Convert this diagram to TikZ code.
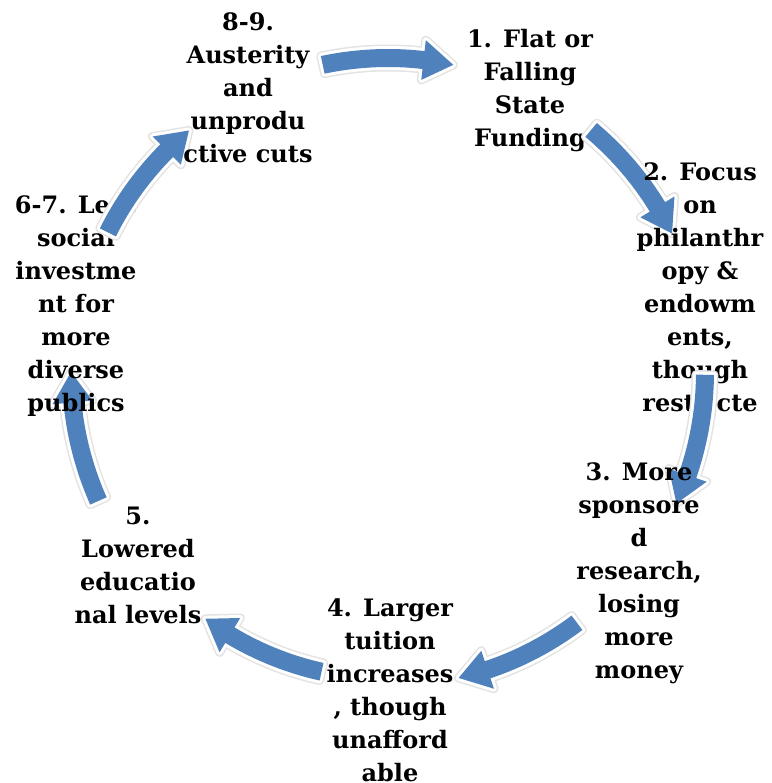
\documentclass[tikz,border=0pt]{standalone}
\usepackage{fontspec}
\setmainfont{DejaVu Serif}
\definecolor{arrowblue}{RGB}{79,129,189}
\tikzset{
  lbl/.style={anchor=north, align=center, inner sep=0pt, text=black,
    font=\fontsize{24}{33}\selectfont\bfseries},
}
% #1 = compass angle of the arrow's middle, #2 = radius
\newcommand\cycarrow[2]{%
  \pgfmathsetmacro\cps{#1-102}%
  \pgfmathsetmacro\cph{#1-83.5}%
  \pgfmathsetmacro\cpe{#1-78}%
  \pgfmathsetmacro\rso{#2+9}\pgfmathsetmacro\rsi{#2-9}%
  \pgfmathsetmacro\rho{#2+20}\pgfmathsetmacro\rhi{#2-20}%
  \def\cycpath{plot[domain=\cps:\cph,samples=18] (\x:\rso) -- (\cph:\rho) -- (\cpe:#2) -- (\cph:\rhi) -- plot[domain=\cph:\cps,samples=18] (\x:\rsi) -- cycle}%
  \begin{scope}[shift={(388,372)}]
    \draw[gray!22, line width=9pt, line join=round] \cycpath;
    \draw[white, fill=white, line width=6pt, line join=round] \cycpath;
    \fill[arrowblue] \cycpath;
  \end{scope}}
\begin{document}
\begin{tikzpicture}[x=1pt,y=-1pt]
\fill[white] (0,0) rectangle (771,783);
\useasboundingbox (0,0) rectangle (771,783);
\node[lbl] (n1) at (530,29) {1. Flat or\\Falling\\State\\Funding};
\cycarrow{52}{316}
\node[lbl] (n2) at (700,162) {2. Focus\\on\\philanthr\\opy \&\\endowm\\ents,\\though\\restricte};
\cycarrow{102.5}{317}
\node[lbl] (n3) at (639,462) {3. More\\sponsore\\d\\research,\\losing\\more\\money};
\cycarrow{155}{314}
\node[lbl] (n4) at (390,598) {4. Larger\\tuition\\increases\\, though\\unafford\\able};
\cycarrow{204.5}{307}
\node[lbl] (n5) at (138,507) {5.\\Lowered\\educatio\\nal levels};
\cycarrow{258}{317}
\node[lbl] (n67) at (76,195) {6-7. Less\\social\\investme\\nt for\\more\\diverse\\publics};
\cycarrow{308.5}{313}
\node[lbl] (n89) at (248,12) {8-9.\\Austerity\\and\\unprodu\\ctive cuts};
\cycarrow{0}{314}
\end{tikzpicture}
\end{document}
